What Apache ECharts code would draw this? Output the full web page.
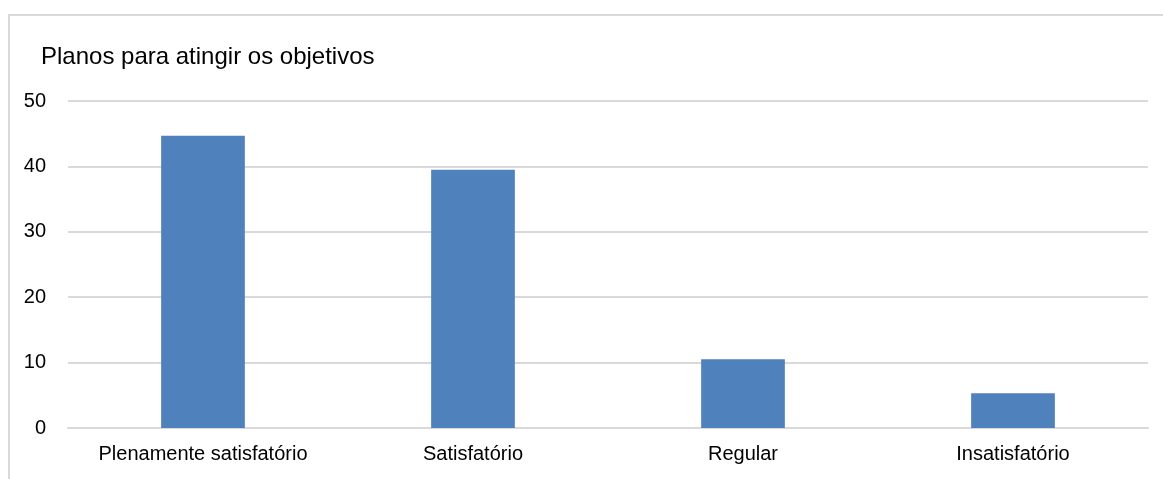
<!DOCTYPE html>
<html>
<head>
<meta charset="utf-8">
<script src="https://cdn.jsdelivr.net/npm/echarts@6/dist/echarts.min.js"></script>
<style>
  html, body { margin: 0; padding: 0; background: #fff; }
  #frame {
    position: absolute;
    left: 8px;
    top: 14px;
    width: 1160px;
    height: 470px;
    border-left: 2px solid #d9d9d9;
    border-top: 2px solid #d9d9d9;
  }
  #chart { position: absolute; left: 0; top: 0; width: 1163px; height: 479px; }
</style>
</head>
<body>
<div id="frame"></div>
<div id="chart"></div>
<script>
const categories = ['Plenamente satisfatório', 'Satisfatório', 'Regular', 'Insatisfatório']
const values = [44.7, 39.5, 10.5, 5.3]
const yTicks = [0, 10, 20, 30, 40, 50]

const font = '"Liberation Sans Narrow", "Arial Narrow", "Liberation Sans", sans-serif'

const chart = echarts.init(document.getElementById('chart'))

chart.setOption({
  animation: false,
  title: {
    text: 'Planos para atingir os objetivos',
    left: 36,
    top: 40,
    textStyle: {
      fontFamily: font,
      fontSize: 24,
      fontWeight: 'normal',
      color: '#000'
    }
  },
  grid: {
    left: 68,
    right: 15,
    top: 101,
    bottom: 51,
    containLabel: false
  },
  xAxis: {
    type: 'category',
    data: categories,
    axisLine: { lineStyle: { color: '#d9d9d9', width: 2 } },
    axisTick: { show: false },
    axisLabel: {
      interval: 0,
      fontFamily: font,
      fontSize: 20,
      color: '#000',
      margin: 16
    }
  },
  yAxis: {
    type: 'value',
    min: yTicks[0],
    max: yTicks[yTicks.length - 1],
    interval: 10,
    axisLine: { show: false },
    axisTick: { show: false },
    splitLine: { lineStyle: { color: '#d9d9d9', width: 2 } },
    axisLabel: {
      fontFamily: font,
      fontSize: 20,
      color: '#000',
      margin: 22
    }
  },
  series: [
    {
      type: 'bar',
      data: values,
      barWidth: '31%',
      itemStyle: { color: '#4f81bd' }
    }
  ]
})
</script>
</body>
</html>
